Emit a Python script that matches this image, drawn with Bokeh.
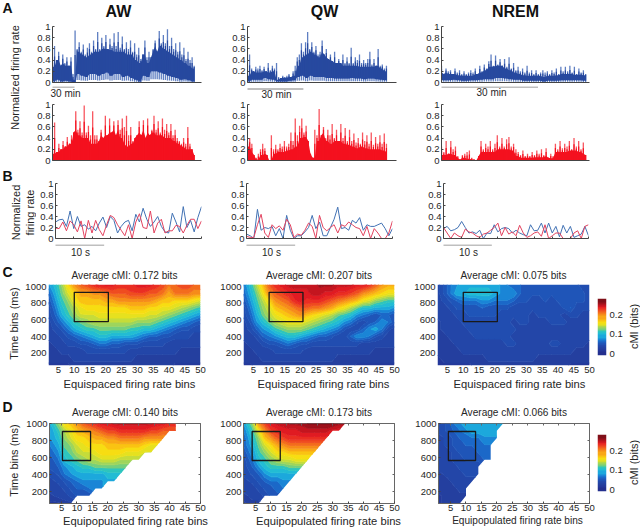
import numpy as np
from bokeh.plotting import figure
from bokeh.embed import file_html
from bokeh.resources import INLINE
from bokeh.models import (Range1d, FixedTicker, Label, BoxAnnotation, LinearColorMapper,
                          LinearAxis, Row, Column)

# ---------- panel A: long traces (firing rate envelopes) ----------
aw_blue_peak = [.35,.65,.4,.55,.3,.5,.35,.45,.3,.45,.15,.93,.6,.72,.55,.68,.5,.62,.7,.55,.75,.6,.9,.6,.8,.65,.85,.6,.78,.65,.88,.65,.9,.62,.82,.6,.72,.6,.75,.55,.7,.5,.62,.42,.5,.75,.45,.55,.45,.6,.75,.55,.92,.7,.85,.7,.95,.65,.8,.6,.7,.55,.72,.5,.62,.42,.55,.4,.45,.3]
aw_blue_core = [.28,.4,.35,.3,.3,.05,.55,.5,.45,.5,.55,.55,.6,.6,.58,.55,.55,.55,.5,.5,.4,.35,.5,.35,.55,.65,.65,.6,.55,.5,.45,.4,.35,.3,.25]
aw_blue_low = [.02,.05,.02,.03,.02,.0,.15,.12,.1,.15,.15,.12,.15,.18,.12,.15,.15,.1,.12,.08,.05,.02,.12,.1,.2,.2,.18,.15,.12,.1,.08,.05,.06,.04,.02]
aw_red_peak = [.2,.68,.15,.3,.2,.35,.25,.42,.3,.45,.5,.88,.55,.7,.5,.98,.5,.62,.45,.88,.45,.45,.35,.55,.4,.8,.45,.75,.5,.7,.45,.72,.55,.75,.6,.8,.45,.6,.35,.4,.45,.7,.45,.72,.4,.75,.45,.55,.8,.55,.7,.5,.75,.55,.65,.5,.65,.45,.55,.4,.35,.3,.4,.3,.6,.3,.2,.1]
aw_red_core = [.12,.15,.2,.25,.3,.55,.45,.4,.4,.3,.3,.45,.45,.5,.55,.55,.4,.3,.25,.3,.45,.5,.55,.5,.5,.45,.45,.4,.4,.35,.3,.25,.2,.2,.15]
qw_blue_peak = [.15,.5,.25,.2,.28,.25,.3,.22,.28,.2,.35,.22,.3,.25,.35,.1,.08,.12,.1,.12,.15,.1,.2,.3,.45,.5,.7,.55,.72,.9,.6,.72,.55,.65,.5,.55,.75,.5,.6,.42,.5,.38,.55,.35,.42,.35,.5,.35,.45,.35,.62,.35,.45,.4,.5,.35,.4,.35,.42,.55,.32,.42,.3,.6,.3,.32,.25,.3]
qw_blue_core = [.12,.2,.18,.18,.2,.18,.2,.05,.08,.08,.1,.12,.3,.45,.5,.55,.5,.45,.55,.45,.4,.35,.35,.3,.3,.3,.3,.28,.28,.28,.28,.3,.25,.2]
qw_blue_low = [.02,.05,.05,.05,.08,.06,.05,.02,.02,.02,.03,.04,.1,.12,.08,.12,.1,.1,.1,.08,.08,.07,.07,.07,.07,.08,.07,.07,.06,.07,.07,.06,.05,.04]
qw_red_peak = [.35,.4,.3,.1,.05,.12,.2,.3,.22,.1,.0,.45,.2,.28,.2,.3,.25,.35,.25,.3,.5,.35,.75,.45,.62,.75,.5,.62,.35,.12,.05,.55,.45,.92,.45,.6,.4,.55,.45,.65,.4,.55,.35,.65,.4,.58,.35,.55,.35,.48,.32,.4,.3,.5,.35,.45,.3,.5,.28,.42,.3,.45,.3,.48,.3]
qw_red_core = [.25,.15,.02,.1,.12,.0,.12,.15,.15,.18,.2,.25,.4,.42,.35,.05,.35,.5,.35,.3,.35,.35,.3,.28,.25,.22,.25,.22,.2,.2,.2,.18,.15]
nrem_blue_peak = [.3,.15,.25,.2,.22,.15,.25,.18,.22,.15,.2,.15,.18,.22,.18,.25,.15,.3,.2,.32,.25,.38,.5,.3,.48,.32,.42,.3,.42,.28,.45,.25,.35,.22,.28,.2,.25,.18,.3,.18,.22,.15,.22,.15,.18,.22,.18,.2,.15,.22,.18,.25,.15,.28,.2,.28,.2,.3,.18,.28,.15,.25,.18,.22,.15]
nrem_blue_core = [.18,.15,.15,.13,.12,.12,.12,.15,.18,.22,.28,.3,.3,.25,.22,.18,.15,.13,.12,.12,.12,.1,.12,.12,.13,.15,.15,.15,.14,.14,.13]
nrem_blue_low = [.04,.04,.05,.04,.03,.03,.04,.04,.05,.06,.06,.08,.08,.07,.06,.05,.05,.03,.03,.03,.03,.02,.03,.03,.03,.04,.04,.04,.04,.04,.03]
nrem_red_peak = [.25,.15,.35,.12,.35,.2,.25,.08,.02,.1,.12,.15,.18,.05,.02,.0,.08,.35,.2,.3,.25,.35,.2,.3,.45,.25,.4,.25,.38,.42,.25,.3,.2,.15,.1,.18,.08,.12,.08,.15,.1,.18,.12,.2,.1,.22,.05,.12,.08,.3,.2,.35,.22,.3,.25,.35,.2,.4,.25,.35,.2,.32,.1]
nrem_red_core = [.1,.12,.1,.04,.05,.03,.02,.12,.15,.15,.15,.2,.2,.2,.18,.08,.05,.05,.05,.06,.06,.08,.04,.15,.15,.15,.18,.18,.15,.12]

# ---------- panel B: 30 s excerpts ----------
aw_b_blue = [.30,.34,.35,.22,.50,.18,.40,.22,.25,.17,.22,.14,.28,.39,.20,.40,.33,.10,.22,.30,.33,.14,.44,.30,.55,.35,.22,.30,.40,.22,.12,.10,.46,.30,.12,.58,.20,.33,.12,.38,.58]
aw_b_red = [.19,.18,.30,.14,.32,.25,.12,.32,.0,.33,.10,.33,.16,.05,.25,.42,.38,.25,.15,.05,.25,.0,.30,.45,.20,.18,.50,.10,.28,.35,.10,.14,.14,.24,.22,.10,.24,.35,.35,.18,.32]
qw_b_blue = [.08,.05,.0,.53,.15,.20,.18,.22,.05,.18,.0,.42,.15,.0,.05,.05,.12,.20,.42,.18,.30,.05,.05,.20,.35,.57,.18,.20,.15,.33,.28,.38,.15,.25,.22,.22,.25,.28,.18,.05,.18]
qw_b_red = [.04,.02,.02,.25,.44,.10,.02,.25,.18,.23,.15,.35,.25,.02,.08,.06,.15,.28,.22,.0,.42,.20,.14,.20,.25,.10,.25,.22,.30,.25,.20,.18,.05,.22,.0,.18,.10,.0,.0,.10,.32]
nrem_b_blue = [.18,.22,.14,.16,.20,.31,.20,.10,.12,.09,.15,.0,.10,.09,.25,.12,.18,.20,.18,.10,.15,.10,.07,.05,.25,.14,.15,.28,.10,.28,.10,.22,.03,.24,.10,.22,.02,.05,.08,.22,.05]
nrem_b_red = [.20,.10,.0,.10,.05,.02,.17,.12,.10,.05,.02,.08,.10,.15,.20,.28,.05,.20,.08,.12,.05,.24,.10,.02,.05,.10,.12,.04,.25,.0,.05,.10,.10,.0,.0,.0,.10,.14,.0,.22,.25]

# ---------- panels C, D: cMI in hundredths of a bit (rows: 1000 ms downwards; columns: bins 2,4,...,50) ----------
aw_c = [
 [8,10,13,17,20,22,23,24,25,25,25,24,24,24,25,25,25,24,23,21,22,23,23,22,22],
 [6,9,12,15,17,19,19,20,20,21,22,22,22,23,23,23,22,22,21,19,21,21,21,20,20],
 [5,8,11,13,16,18,18,18,18,19,19,20,20,20,20,20,20,19,18,18,17,17,17,16,15],
 [4,7,10,12,14,16,17,17,17,17,17,17,17,18,18,18,17,17,16,16,15,14,13,12,11],
 [4,6,9,11,13,15,15,15,16,16,16,16,16,16,16,16,15,15,14,13,12,11,10,9,8],
 [3,5,7,9,11,12,13,14,14,14,14,14,14,14,13,13,13,12,11,10,9,8,7,6,5],
 [3,4,5,7,9,10,11,11,12,12,12,12,12,11,11,10,10,9,8,7,6,5,5,4,4],
 [3,3,4,5,6,7,8,9,10,10,9,9,9,9,8,7,6,6,5,5,4,4,4,3,3],
 [2,3,3,4,4,5,5,6,7,7,6,6,5,5,5,4,4,4,4,3,3,3,3,3,3],
 [2,2,3,3,3,3,4,4,4,4,4,4,4,3,3,3,3,3,3,3,3,2,2,2,2],
 [2,2,2,2,3,3,3,3,3,3,3,3,3,3,2,2,2,2,2,2,2,2,2,2,2],
 [1,1,1,1,2,2,2,2,2,2,2,2,2,2,2,2,2,2,2,2,1,1,1,1,1],
]
qw_c = [
 [7,10,14,18,22,24,25,26,26,26,26,26,27,27,27,26,26,26,25,25,24,22,20,19,19],
 [6,9,12,16,20,22,23,24,25,25,25,26,26,25,25,24,24,23,22,20,19,18,17,16,16],
 [5,8,11,14,17,20,21,22,24,25,24,24,24,23,22,21,20,19,18,16,15,13,12,11,11],
 [4,7,10,13,15,18,19,20,21,22,22,21,21,20,19,17,16,14,12,10,10,9,9,9,8],
 [4,6,9,12,14,16,17,18,19,20,18,17,16,15,14,12,11,10,8,7,6,5,6,6,5],
 [3,5,8,10,12,14,15,16,16,16,15,14,13,12,11,10,8,7,5,4,5,6,8,7,5],
 [3,4,6,8,9,11,12,13,13,13,12,11,10,9,8,7,5,4,4,6,8,9,7,4,3],
 [3,3,4,6,7,8,9,10,10,9,8,7,6,6,5,4,4,6,8,8,7,5,4,3,3],
 [2,3,3,4,5,5,6,7,6,5,5,4,4,4,4,4,4,4,4,3,3,3,3,3,3],
 [2,2,3,3,3,4,4,4,4,4,3,3,3,3,3,3,3,3,3,3,3,2,2,2,2],
 [2,2,2,3,3,3,3,3,3,3,3,3,3,3,3,2,2,2,2,2,2,2,2,2,2],
 [1,1,2,2,2,2,2,2,2,2,2,2,2,2,2,2,2,2,1,1,1,1,1,1,1],
]
nrem_c = [
 [3,5,7,8,9,9,9,9,9,9,8,7,6,6,5,5,5,5,5,5,5,5,5,4,4],
 [3,5,7,9,9,10,10,10,10,9,8,8,8,6,5,5,5,5,5,5,5,5,5,5,4],
 [3,4,5,6,7,7,7,8,8,7,7,7,6,5,5,4,4,5,4,5,5,5,5,5,4],
 [3,3,4,5,5,5,5,6,5,5,5,5,4,4,4,4,4,4,4,4,5,6,4,4,4],
 [3,3,3,4,4,5,5,5,5,5,4,4,4,4,4,3,4,4,4,4,3,4,4,3,3],
 [2,3,3,3,4,4,4,4,4,4,4,4,3,4,4,3,3,3,4,4,4,3,3,3,3],
 [2,3,3,3,3,4,4,4,4,4,4,4,4,3,3,3,3,3,3,3,3,3,3,3,3],
 [2,2,3,3,3,3,4,4,4,4,4,4,3,3,3,3,3,3,3,3,3,3,3,3,3],
 [2,2,2,3,3,3,3,3,3,3,3,4,4,3,3,3,3,3,4,4,3,3,3,3,2],
 [2,2,2,2,3,3,3,3,3,3,3,3,3,3,3,3,3,3,3,3,3,3,2,2,2],
 [1,2,2,2,2,2,2,2,3,3,3,3,3,3,3,3,2,2,2,2,2,2,2,2,2],
 [1,1,1,1,1,1,2,2,2,2,2,2,2,2,2,2,2,2,2,2,2,1,1,1,1],
]
aw_d = [
 [9,13,17,18,20,22,23,24,25,25,26,26,26,26,26,26,26,25,25,24],
 [8,11,14,16,18,19,20,21,22,23,23,24,24,24,24,24,23,23,22,22],
 [8,10,13,15,17,17,18,19,19,20,20,21,21,21,21,20,20,20],
 [7,9,12,13,15,16,17,17,17,18,18,18,18,18,18,17,16],
 [6,8,11,12,14,15,15,16,17,17,17,17,16,16,16,15],
 [5,7,10,11,12,13,14,14,15,15,15,14,14,14],
 [5,6,8,9,10,11,11,12,12,12,12,12],
 [4,5,7,8,9,9,9,9,9,10,10],
 [3,4,5,6,7,8,8,8,8,9],
 [3,3,4,5,6,6,7,8],
 [2,3,3,4,5,5],
 [1,1,2],
]
qw_d = [
 [8,13,20,23,25,26,26,27,27,27,28,28,28,28,28,27],
 [7,11,16,20,23,24,25,25,25,26,26,26,26,26,25],
 [6,10,13,18,20,22,23,24,24,24,24,24,24],
 [6,9,12,15,17,19,20,21,21,21,21,21],
 [5,8,11,13,15,17,17,18,18,18,18],
 [4,7,10,11,13,14,15,15,16,16],
 [4,6,8,10,11,11,11,12,12],
 [4,5,6,8,9,9,9,9],
 [3,4,5,6,7,7,8],
 [3,3,4,5,5,7],
 [2,3,3,4,5],
 [1,2],
]
nrem_d = [
 [4,5,7,8,9,9,9,9,9,9],
 [4,5,6,7,8,9,9,9,9],
 [3,4,5,6,6,7,7,8,8],
 [3,4,5,5,6,6,6,7],
 [3,3,4,5,5,5,6,7],
 [3,3,4,4,5,5,5,6],
 [3,3,3,4,4,4],
 [2,3,3,3,4,4],
 [2,2,3,3,3],
 [2,2,2,3],
 [1,2,2,2],
 [1,2,2],
]
row_centres = [1000, 915, 830, 745, 660, 575, 490, 405, 320, 235, 150, 65]
col_centres = [2, 4, 6, 8, 10, 12, 14, 16, 18, 20, 22, 24, 26, 28, 30, 32, 34, 36, 38, 40, 42, 44, 46, 48, 50]
jet_colors = ["#232f8e","#24389a","#243f9f","#2346a8","#214db0","#1f55b8","#1b68c8","#1a85d6","#1ca8dc","#22bcd4",
              "#2ec5bd","#74cf7e","#9ed55c","#c5dc3a","#e6e11f","#f7dd12","#fac312","#f9a716","#f68b1a","#f36c1d",
              "#ef4c20","#ea2e22","#e01b22","#c4151f","#9e111b","#7f0f18"]
state_names = ["AW", "QW", "NREM"]
c_titles = ["Average cMI: 0.172 bits", "Average cMI: 0.207 bits", "Average cMI: 0.075 bits"]
d_titles = ["Average cMI: 0.140 bits", "Average cMI: 0.173 bits", "Average cMI: 0.066 bits"]
minutes_span = [203, 80, 46]
minutes_end = [193, 74.6, 44.8]
c_time_ticks = [200, 400, 600, 800, 1000]
bin_ticks = [5, 10, 15, 20, 25, 30, 35, 40, 45, 50]
rate_ticks = [0, .2, .4, .6, .8, 1]
cmi_ticks = [0, .1, .2]

FONT = "Liberation Sans"
INK = "#262626"
BLUE, BLUE_L = "#27499f", "#5f7fc2"
RED, RED_L = "#f4111f", "#f8565f"
rate_labels = {0: "0", .2: "0.2", .4: "0.4", .6: "0.6", .8: "0.8", 1: "1"}
FRAME = {}

def style_axis(ax):
    ax.major_label_text_font = FONT
    ax.major_label_text_font_size = "9.5px"
    ax.major_label_text_color = INK
    ax.axis_line_color = "#444444"
    ax.major_tick_line_color = "#444444"
    ax.major_tick_in = 2
    ax.major_tick_out = 0
    ax.minor_tick_line_color = None
    ax.major_label_standoff = 2

def no_labels(ax, ticks):
    ax.ticker = FixedTicker(ticks=ticks)
    ax.major_label_overrides = {t: " " for t in ticks}
    ax.major_label_text_font_size = "1px"
    ax.major_label_standoff = 0

def fig(cell_l, cell_r, cell_t, cell_b, fl, fr, ft, fb, xr, yr, **kw):
    p = figure(width=cell_r - cell_l, height=cell_b - cell_t, output_backend="svg", toolbar_location=None, frame_align=False,
               x_range=Range1d(*xr), y_range=Range1d(*yr), min_border_left=fl - cell_l, min_border_right=cell_r - fr,
               min_border_top=ft - cell_t, min_border_bottom=cell_b - fb, outline_line_color=None, **kw)
    p.grid.visible = False
    for ax in p.axis:
        style_axis(ax)
    return p

def strip(l, r, t, b):
    """A text-only figure: its frame is the whole of the page area l..r, t..b."""
    s = figure(width=r - l, height=b - t, output_backend="svg", toolbar_location=None, x_axis_location=None, y_axis_location=None,
               x_range=Range1d(0, 1), y_range=Range1d(0, 1), min_border=0, outline_line_color=None, frame_align=False)
    s.grid.visible = False
    FRAME[s.id] = (l, b)
    return s

def text(s, t, tx, ty, size="11px", bold=False, angle=0, align="center"):
    l, b = FRAME[s.id]
    s.add_layout(Label(x=tx - l, y=b - ty, x_units="screen", y_units="screen", text=t, text_font=FONT,
                       text_font_size=size, text_font_style="bold" if bold else "normal", text_color="#111111" if bold else INK,
                       text_align=align, text_baseline="middle", angle=angle))

def scale_bar(s, l_px, r_px, ty):
    l, b = FRAME[s.id]
    s.add_layout(BoxAnnotation(left=l_px - l, right=r_px - l, top=b - ty, bottom=b - ty - 1, left_units="screen", right_units="screen",
                               top_units="screen", bottom_units="screen", fill_color="#808080", fill_alpha=1, line_color=None))

def rate_axes(p):
    p.yaxis.ticker = FixedTicker(ticks=rate_ticks)
    p.yaxis.major_label_overrides = rate_labels

def trace_panel(cell, frame, k, peak, core, low, dark, light):
    p = fig(*cell, *frame, (0, minutes_span[k]), (0, 1))
    rate_axes(p)
    no_labels(p.xaxis[0], [])
    end = minutes_end[k]
    n = len(peak)
    xs = np.linspace(0, end, n)
    # each core/low sample covers the neighbouring spikes
    core_at = np.array(core)[np.minimum(np.arange(n) * len(core) // n, len(core) - 1)]
    low_at = np.zeros(n) if low is None else np.array(low)[np.minimum(np.arange(n) * len(low) // n, len(low) - 1)]
    peak = np.array(peak)
    top = np.maximum(np.minimum(core_at, peak), low_at)
    p.segment(xs, low_at * .3, xs, peak, line_color=light, line_width=1.3)
    p.varea(xs, low_at, top, fill_color=dark)
    p.segment(xs, low_at, xs, (np.maximum(peak, top) + top) / 2, line_color=dark, line_width=1.2)
    return p

A_CELLS = [(22, 212), (212, 408), (408, 640)]
FL_A = [(52, 201), (247, 396), (441, 589)]
blues = [(aw_blue_peak, aw_blue_core, aw_blue_low), (qw_blue_peak, qw_blue_core, qw_blue_low), (nrem_blue_peak, nrem_blue_core, nrem_blue_low)]
reds = [(aw_red_peak, aw_red_core), (qw_red_peak, qw_red_core), (nrem_red_peak, nrem_red_core)]
bar_y = [(86, 93), (88, 94), (86, 92)]
bar_txt_x = [65, 276, 491]
head_x = [118, 324, 515]
left_a = strip(0, 22, 0, 168)
text(left_a, "A", 2, 7, "14px", True, align="left")
text(left_a, "Normalized firing rate", 14, 77, "11px", angle=np.pi / 2)
head_band = strip(22, 640, 0, 21)
bar_band = strip(22, 640, 86, 99)
top_panels, mid_panels = [], []
for k in range(3):
    cl, cr = A_CELLS[k]
    fl, fr = FL_A[k]
    top_panels.append(trace_panel((cl, cr, 21, 86), (fl, fr, 26, 82), k, *blues[k], BLUE, BLUE_L))
    mid_panels.append(trace_panel((cl, cr, 99, 168), (fl, fr, 104, 160), k, reds[k][0], reds[k][1], None, RED, RED_L))
    text(head_band, state_names[k], head_x[k], 11, "16px", True)
    scale_bar(bar_band, fl, fl + 30 / minutes_span[k] * (fr - fl), bar_y[k][0])
    text(bar_band, "30 min", bar_txt_x[k], bar_y[k][1], "10px")

B_FRAMES = [(55, 201), (246, 392), (443, 588)]
B_CELLS = [(36, 212), (212, 408), (408, 640)]
b_blue = [aw_b_blue, qw_b_blue, nrem_b_blue]
b_red = [aw_b_red, qw_b_red, nrem_b_red]
left_b = strip(0, 36, 168, 244)
text(left_b, "B", 2, 175, "14px", True, align="left")
text(left_b, "Normalized", 15, 212, "11px", angle=np.pi / 2)
text(left_b, "firing rate", 29, 212, "11px", angle=np.pi / 2)
b_band = strip(0, 640, 244, 262)
b_panels = []
for k in range(3):
    cl, cr = B_CELLS[k]
    fl, fr = B_FRAMES[k]
    p = fig(cl, cr, 168, 244, fl, fr, 183, 238, (0, 30), (0, 1))
    rate_axes(p)
    no_labels(p.xaxis[0], [3.75, 7.5, 11.25, 15, 18.75, 22.5, 26.25, 30])
    xs = np.linspace(0, 30, len(b_blue[k]))
    p.line(xs, b_blue[k], line_color="#4272b4", line_width=1)
    p.line(xs, b_red[k], line_color="#e2435f", line_width=1)
    scale_bar(b_band, fl, fl + 10 / 30 * (fr - fl), 244)
    text(b_band, "10 s", fl + 25, 252, "10px")
    b_panels.append(p)

contour_levels = list(np.linspace(-1, 29, len(jet_colors) + 1))

def matrix(rows, extra=0):
    m = np.full((12, 25), np.nan)
    for i, r in enumerate(rows):
        n = min(len(r) + extra, 25)
        m[i, :n] = (list(r) + [r[-1]] * extra)[:n]
    return m

def heat(cell, frame, rows, xr, yr, box, extra):
    p = fig(*cell, *frame, xr, yr)
    grid_x = [xr[0]] + col_centres[1:]
    grid_y = [yr[1]] + row_centres[1:-1] + [yr[0]]
    # bands are cut from the grid by Bokeh's own contour routine; band-coloured outlines close the seams between them
    p.contour(grid_x, grid_y, np.ma.masked_invalid(matrix(rows, extra)), contour_levels, fill_color=jet_colors,
              line_color=jet_colors + [jet_colors[-1]], line_width=1)
    p.quad(left=[box[0]], right=[box[1]], bottom=[box[2]], top=[box[3]], fill_color=None, line_color="#1a1a1a", line_width=1.3)
    p.xaxis.ticker = FixedTicker(ticks=bin_ticks)
    p.yaxis.ticker = FixedTicker(ticks=c_time_ticks)
    p.xaxis.major_label_standoff = 1
    return p

H_CELLS = [(22, 212), (212, 408), (408, 596)]
C_FRAMES = [(48, 200), (243, 394), (437, 589)]
D_FRAMES = [(49, 200), (243, 394), (438, 589)]
c_rows = [aw_c, qw_c, nrem_c]
d_rows = [aw_d, qw_d, nrem_d]
c_label_x = [129, 323, 519]
d_label_x = [135, 328, 517]
d_sizes = ["11.2px", "11.2px", "10.1px"]
d_boxes = [(5.3, 14.4, 565, 906), (3.9, 13, 565, 906), (4.3, 13.1, 565, 906)]
c_title_band = strip(0, 640, 262, 281)
c_label_band = strip(0, 640, 377, 395)
d_title_band = strip(0, 640, 395, 418)
d_label_band = strip(0, 640, 514, 527)
c_panels, d_panels = [], []
for k in range(3):
    cl, cr = H_CELLS[k]
    fl, fr = C_FRAMES[k]
    p = heat((cl, cr, 281, 377), (fl, fr, 284, 365), c_rows[k], (1.83, 50), (56, 1024), (10, 20.8, 580, 930), 0)
    for ax in p.axis:
        ax.axis_line_color = None
        ax.major_tick_line_color = None
    text(c_title_band, c_titles[k], (fl + fr) / 2, 275, "10.1px")
    text(c_label_band, "Equispaced firing rate bins", c_label_x[k], 383, "11.2px")
    c_panels.append(p)
    fl, fr = D_FRAMES[k]
    p = heat((cl, cr, 418, 514), (fl, fr, 423, 503), d_rows[k], (1.1, 50), (59, 1000), d_boxes[k], 1)
    p.outline_line_color = "#666666"
    for ax in p.axis:
        ax.axis_line_color = "#666666"
    for side, ticks in (("above", bin_ticks), ("right", c_time_ticks)):
        ax = LinearAxis()
        style_axis(ax)
        ax.axis_line_color = None
        ax.major_tick_line_color = "#666666"
        no_labels(ax, ticks)
        p.add_layout(ax, side)
    text(d_title_band, d_titles[k], (fl + fr) / 2, 412, "10.1px")
    text(d_label_band, "Equipopulated firing rate bins", d_label_x[k], 520, d_sizes[k])
    d_panels.append(p)

text(c_title_band, "C", 2, 271, "14px", True, align="left")
text(d_title_band, "D", 2, 406, "14px", True, align="left")
left_c = strip(0, 22, 281, 377)
left_d = strip(0, 22, 418, 514)
text(left_c, "Time bins (ms)", 13, 323, "11px", angle=np.pi / 2)
text(left_d, "Time bins (ms)", 13, 460, "11px", angle=np.pi / 2)

def color_bar(top, bottom, ft, fb, fr):
    lo, hi = -.01, .285
    p = figure(width=29, height=bottom - top, output_backend="svg", toolbar_location=None, x_axis_location=None, y_axis_location="right",
               x_range=Range1d(0, 1), y_range=Range1d(lo, hi), min_border_left=1, min_border_right=625 - fr, frame_align=False,
               min_border_top=ft - top, min_border_bottom=bottom - fb, outline_line_color=None)
    p.grid.visible = False
    ax = p.yaxis[0]
    style_axis(ax)
    ax.ticker = FixedTicker(ticks=cmi_ticks)
    ax.major_label_overrides = {0: "0", .1: "0.1", .2: "0.2"}
    ax.axis_line_color = None
    ax.major_tick_line_color = None
    ax.major_label_standoff = 3
    p.image(image=[np.array([[v / 100] for v in range(-1, 29)])], x=0, y=lo, dw=1, dh=hi - lo,
            color_mapper=LinearColorMapper(palette=jet_colors, low=-.01, high=.28))
    return p

cb_c = color_bar(281, 377, 298, 355, 611)
cb_d = color_bar(418, 514, 434, 491, 610)
right_c = strip(625, 640, 281, 377)
right_d = strip(625, 640, 418, 514)
text(right_c, "cMI (bits)", 633, 326, "11px", angle=np.pi / 2)
text(right_d, "cMI (bits)", 633, 462, "11px", angle=np.pi / 2)

a_block = Row(children=[left_a, Column(children=[head_band, Row(children=top_panels), bar_band, Row(children=mid_panels)])])
page = Column(children=[a_block,
                        Row(children=[left_b] + b_panels), b_band,
                        c_title_band, Row(children=[left_c] + c_panels + [cb_c, right_c]), c_label_band,
                        d_title_band, Row(children=[left_d] + d_panels + [cb_d, right_d]), d_label_band],
              spacing=0)
open("out.html", "w").write(file_html(page, INLINE))
